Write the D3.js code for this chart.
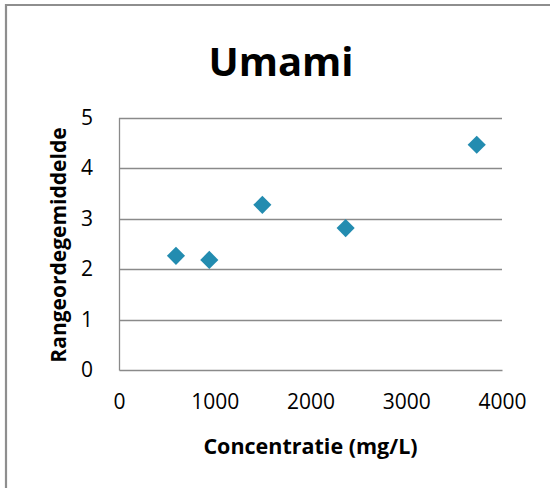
<!DOCTYPE html>
<html>
<head>
<meta charset="utf-8">
<script src="https://cdn.jsdelivr.net/npm/d3@7"></script>
<style>
  html, body { margin: 0; padding: 0; background: #fff; }
  svg { display: block; }
</style>
</head>
<body>
<svg id="chart" width="550" height="488"></svg>
<script>
// Umami: mean rank against concentration
const concentrations = [595, 943, 1497, 2367, 3736];
const meanRanks = [2.26, 2.18, 3.27, 2.81, 4.46];
const xTicks = [0, 1000, 2000, 3000, 4000];
const yTicks = [0, 1, 2, 3, 4, 5];
const chartTitle = "Umami";
const xTitle = "Concentratie (mg/L)";
const yTitle = "Rangeordegemiddelde";

const svg = d3.select("#chart");
const font = "'Open Sans', 'DejaVu Sans', sans-serif";

const plot = { left: 119, right: 502, top: 117.5, bottom: 370 };

const x = d3.scaleLinear().domain([0, 4000]).range([plot.left, plot.right]);
const y = d3.scaleLinear().domain([0, 5]).range([plot.bottom, plot.top]);

// outer chart frame (left and top edges)
svg.append("path")
  .attr("d", "M6,488 V5 H550")
  .attr("fill", "none")
  .attr("stroke", "#8e8e8e")
  .attr("stroke-width", 2.2);

// title
svg.append("text")
  .attr("x", 281).attr("y", 76)
  .attr("text-anchor", "middle")
  .attr("font-family", font)
  .attr("font-weight", "bold")
  .attr("font-size", 40)
  .attr("fill", "#000")
  .text(chartTitle);

// horizontal gridlines
svg.append("g")
  .selectAll("line")
  .data(yTicks.filter(d => d > 0))
  .join("line")
  .attr("x1", plot.left).attr("x2", plot.right)
  .attr("y1", d => Math.round(y(d)) + 0.5).attr("y2", d => Math.round(y(d)) + 0.5)
  .attr("stroke", "#8a8a8a")
  .attr("stroke-width", 1.3);

// y axis
const yAxis = svg.append("g")
  .attr("transform", `translate(${plot.left},0)`)
  .call(d3.axisLeft(y).tickValues(yTicks).tickSize(0).tickPadding(26).tickFormat(d3.format("d")));
yAxis.select(".domain").attr("stroke", "#8a8a8a").attr("stroke-width", 1.3);
yAxis.selectAll("text")
  .attr("font-family", font).attr("font-size", 21).attr("fill", "#000");

// x axis
const xAxis = svg.append("g")
  .attr("transform", `translate(0,${plot.bottom})`)
  .call(d3.axisBottom(x).tickValues(xTicks).tickSize(0).tickPadding(24).tickFormat(d3.format("d")));
xAxis.select(".domain").attr("stroke", "#8a8a8a").attr("stroke-width", 1.3);
xAxis.selectAll("text")
  .attr("font-family", font).attr("font-size", 21).attr("fill", "#000");

// axis titles
svg.append("text")
  .attr("x", (plot.left + plot.right) / 2).attr("y", 454)
  .attr("text-anchor", "middle")
  .attr("font-family", font).attr("font-weight", "bold").attr("font-size", 21.5)
  .attr("fill", "#000")
  .text(xTitle);

svg.append("text")
  .attr("transform", `translate(66,245) rotate(-90)`)
  .attr("text-anchor", "middle")
  .attr("font-family", font).attr("font-weight", "bold").attr("font-size", 21)
  .attr("fill", "#000")
  .text(yTitle);

// diamond markers
const diamond = d3.symbol().type(d3.symbolDiamond2).size(210);
svg.append("g")
  .selectAll("path")
  .data(concentrations.map((c, i) => ({ c, r: meanRanks[i] })))
  .join("path")
  .attr("transform", d => `translate(${x(d.c)},${y(d.r)})`)
  .attr("d", diamond)
  .attr("fill", "#238cb0");
</script>
</body>
</html>
